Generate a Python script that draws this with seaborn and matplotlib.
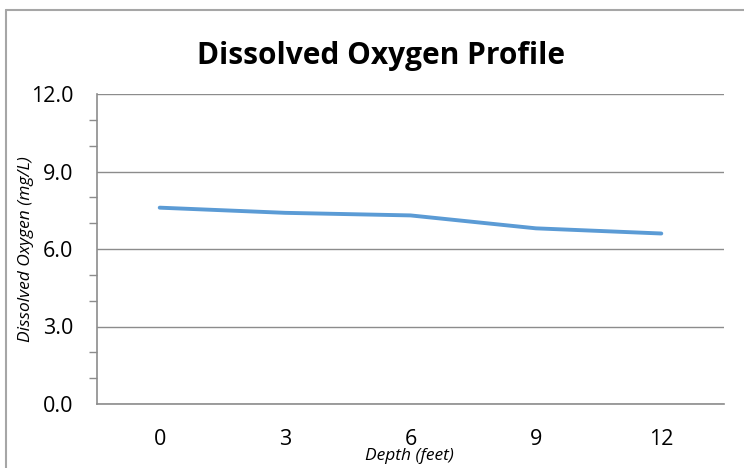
import numpy as np
import pandas as pd
import matplotlib
matplotlib.use('Agg')
import matplotlib.pyplot as plt
from matplotlib.lines import Line2D
from matplotlib.ticker import MultipleLocator, FixedLocator, NullFormatter
import seaborn as sns

depth = ['0', '3', '6', '9', '12']
oxygen = [7.6, 7.4, 7.3, 6.8, 6.6]
y_ticks = [0, 3, 6, 9, 12]

df = pd.DataFrame({'depth': depth, 'oxygen': oxygen})

sns.set_style('white')
plt.rcParams['font.family'] = ['Open Sans', 'DejaVu Sans']
plt.rcParams['text.color'] = 'black'
plt.rcParams['axes.labelcolor'] = 'black'
plt.rcParams['xtick.labelcolor'] = 'black'
plt.rcParams['ytick.labelcolor'] = 'black'

fig = plt.figure(figsize=(7.44, 4.68), dpi=100)
ax = fig.add_axes([97 / 744, 1 - 404 / 468, 627 / 744, 310 / 468])

sns.lineplot(data=df, x='depth', y='oxygen', ax=ax, color='#5B9BD5',
             linewidth=2.8, sort=False)

grey = '#8C8C8C'
ax.set_ylim(0, 12)
ax.set_xlim(-0.5, len(depth) - 0.5)
ax.yaxis.set_major_locator(FixedLocator(y_ticks))
ax.yaxis.set_minor_locator(MultipleLocator(1))
ax.set_yticklabels([f'{v:.1f}' for v in y_ticks])
ax.yaxis.grid(True, which='major', color=grey, linewidth=1.0)
ax.set_axisbelow(True)

# category boundaries carry the tick marks, labels sit at category centres
ax.set_xticks(range(len(depth)))
ax.set_xticklabels(depth)
ax.xaxis.set_minor_locator(FixedLocator(np.arange(-0.5, len(depth), 1)))
ax.xaxis.set_minor_formatter(NullFormatter())
ax.tick_params(axis='x', which='major', length=0, labelsize=15.5, pad=18, labelcolor='black')
ax.tick_params(axis='x', which='minor', length=6, width=1, color=grey, direction='out')
ax.tick_params(axis='y', which='major', length=8, width=1, color=grey, direction='out',
               labelsize=15.5, pad=9, labelcolor='black')
ax.tick_params(axis='y', which='minor', length=6, width=1, color=grey, direction='out', left=True)

for s in ['top', 'right']:
    ax.spines[s].set_visible(False)
for s in ['left', 'bottom']:
    ax.spines[s].set_color(grey)
    ax.spines[s].set_linewidth(1.2)

ax.set_xlabel('Depth (feet)', fontsize=12.5, style='italic', color='black')
ax.xaxis.set_label_coords(0.499, -0.143)
ax.set_ylabel('Dissolved Oxygen (mg/L)', fontsize=12.5, style='italic', color='black')
ax.yaxis.set_label_coords(-0.1, 0.5)
fig.text(381 / 744, 1 - 56 / 468, 'Dissolved Oxygen Profile', ha='center', va='center',
         fontsize=21.5, fontweight='bold', color='black')

# chart frame (left and top edges visible)
fig.add_artist(Line2D([6 / 744, 6 / 744], [0, 1 - 10 / 468], transform=fig.transFigure,
                      color='#A6A6A6', linewidth=1.5))
fig.add_artist(Line2D([6 / 744, 1], [1 - 10 / 468, 1 - 10 / 468], transform=fig.transFigure,
                      color='#A6A6A6', linewidth=1.5))

fig.savefig('out.png', dpi=100)
